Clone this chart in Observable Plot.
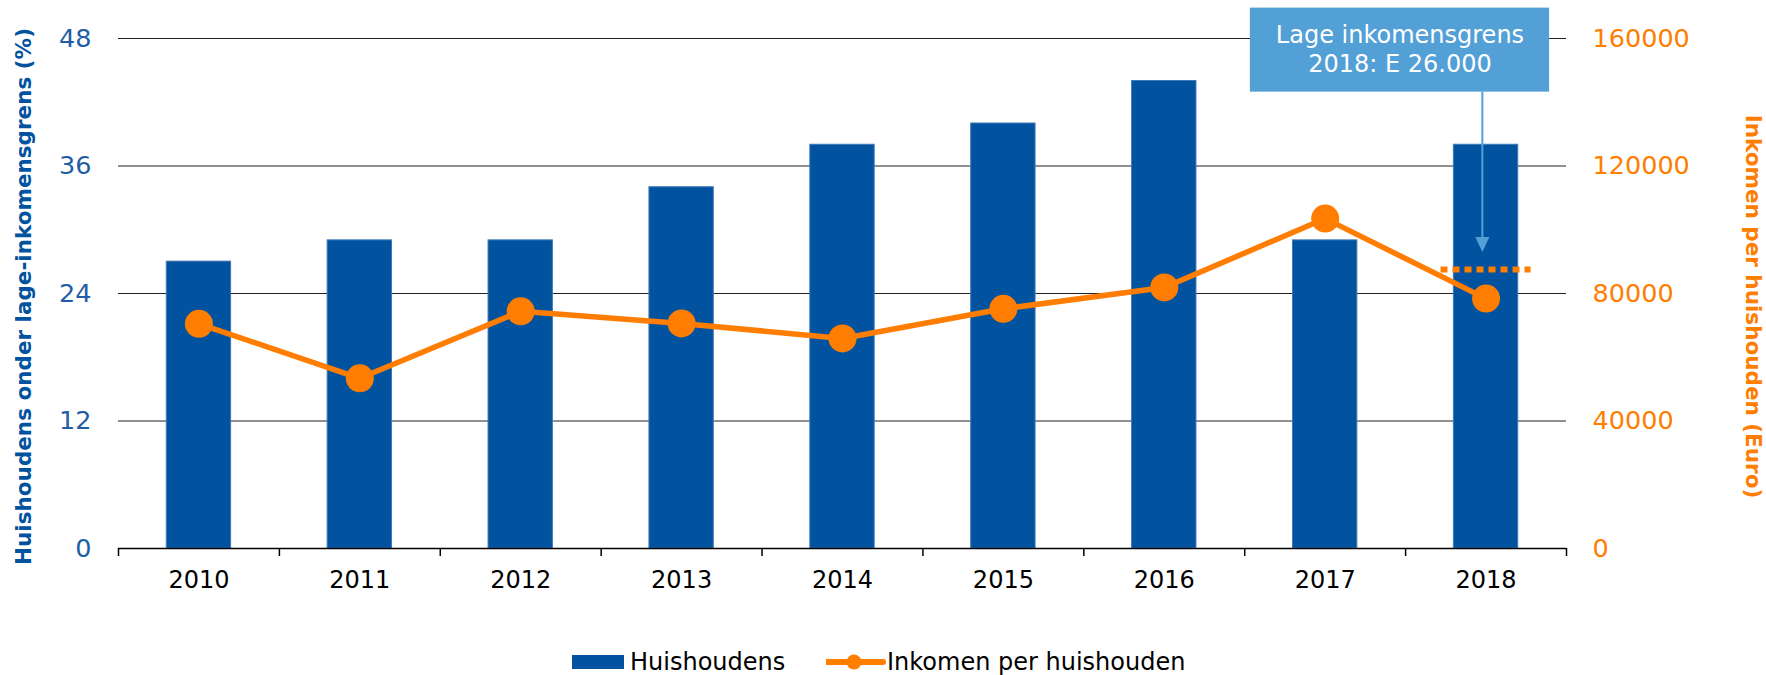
<!DOCTYPE html>
<html>
<head>
<meta charset="utf-8">
<script src="https://cdn.jsdelivr.net/npm/d3@7"></script>
<script src="https://cdn.jsdelivr.net/npm/@observablehq/plot@0.6"></script>
<style>
  body { margin: 0; background: #fff; font-family: "DejaVu Sans", Verdana, sans-serif; }
  #wrap { position: relative; width: 1766px; height: 675px; overflow: hidden; }
  #wrap > svg { position: absolute; left: 0; top: 0; }
  #legend { position: absolute; left: 0; top: 630px; width: 1766px; height: 45px; font-size: 24px; color: #000; }
  #legend .lbl { position: absolute; top: 18px; line-height: 28px; white-space: nowrap; }
</style>
</head>
<body>
<div id="wrap"></div>
<script>
// ---- data ----
const years = ["2010", "2011", "2012", "2013", "2014", "2015", "2016", "2017", "2018"];
const huishoudens = [27, 29, 29, 34, 38, 40, 44, 29, 38];            // % (left axis)
const inkomen = [70500, 53400, 74400, 70600, 65900, 75200, 81900, 103500, 78400]; // Euro (right axis)
const lageGrens2018 = [87500];                                       // dotted reference at 2018
const leftTicks = [0, 12, 24, 36, 48];
const rightTicks = [0, 40000, 80000, 120000, 160000];
const annotatie = ["Lage inkomensgrens", "2018: E 26.000"];
const leftLabel = "Huishoudens onder lage-inkomensgrens (%)";
const rightLabel = "Inkomen per huishouden (Euro)";
const legendLabels = ["Huishoudens", "Inkomen per huishouden"];

// ---- styling ----
const BLUE = "#02539f";
const TICKBLUE = "#1f5ea6";
const ORANGE = "#ff7d00";
const ANNO = "#53a0d7";
const FONT = '"DejaVu Sans", Verdana, sans-serif';

const ratio = leftTicks[leftTicks.length - 1] / rightTicks[rightTicks.length - 1];
const data = years.map((y, i) => ({ i, year: y, pct: huishoudens[i], inc: inkomen[i] }));
const last = data.length - 1;

const triangleDown = {
  draw(ctx) { ctx.moveTo(-7, -15); ctx.lineTo(7, -15); ctx.lineTo(0, 0); ctx.closePath(); }
};

const plot = Plot.plot({
  width: 1766,
  height: 630,
  marginLeft: 118,
  marginRight: 200,
  marginTop: 38,
  marginBottom: 82,
  style: { fontFamily: FONT, background: "white", overflow: "visible" },
  x: { domain: [0, years.length] },
  y: { domain: [0, leftTicks[leftTicks.length - 1]] },
  marks: [
    Plot.ruleY(leftTicks.filter(d => d > 0), { stroke: "#222", strokeWidth: 1 }),
    Plot.rect(data, {
      x1: d => d.i + 0.3, x2: d => d.i + 0.7, y1: 0, y2: "pct",
      fill: BLUE, stroke: "#3f78b9", strokeWidth: 1
    }),
    Plot.ruleY([0], { stroke: "#000", strokeWidth: 1.5 }),
    Plot.axisX({ ticks: d3.range(years.length + 1), tickSize: 8, tickFormat: () => "", stroke: "#000", strokeWidth: 1.5 }),
    Plot.axisX({
      ticks: data.map(d => d.i + 0.5), tickSize: 0, tickPadding: 22,
      tickFormat: d => years[Math.floor(d)], fontSize: 24, color: "#000"
    }),
    Plot.axisY({ ticks: leftTicks, tickSize: 0, tickPadding: 27, fontSize: 25.5, color: TICKBLUE, label: null }),
    Plot.axisY({
      anchor: "right", ticks: rightTicks.map(d => d * ratio), tickSize: 0, tickPadding: 26,
      tickFormat: d => String(Math.round(d / ratio)), fontSize: 25.5, color: ORANGE, label: null
    }),
    Plot.text([leftLabel], {
      frameAnchor: "left", dx: -94, dy: 3, rotate: -90, fontSize: 21.5, fontWeight: "bold", fill: BLUE,
      textAnchor: "middle", lineAnchor: "middle"
    }),
    Plot.text([rightLabel], {
      frameAnchor: "right", dx: 186, dy: 13, rotate: 90, fontSize: 21.5, fontWeight: "bold", fill: ORANGE,
      textAnchor: "middle", lineAnchor: "middle"
    }),
    // dotted low-income threshold at 2018
    Plot.ruleY(lageGrens2018, {
      y: d => d * ratio, x1: last + 0.22, x2: last + 0.78,
      stroke: ORANGE, strokeWidth: 6, strokeDasharray: "7,5"
    }),
    Plot.line(data, { x: d => d.i + 0.5, y: d => d.inc * ratio, stroke: ORANGE, strokeWidth: 5.5 }),
    Plot.dot(data, { x: d => d.i + 0.5, y: d => d.inc * ratio, r: 14, fill: ORANGE, stroke: "none" }),
    // annotation box + arrow
    Plot.rect([0], { x1: last - 0.965, x2: last + 0.895, y1: 42.95, y2: 50.86, fill: ANNO }),
    Plot.text([annotatie.join("\n")], {
      x: last - 0.035, y: 47.1, fill: "white", fontSize: 24, lineHeight: 1.2,
      textAnchor: "middle", lineAnchor: "middle"
    }),
    Plot.ruleX([last + 0.477], { y1: 42.95, y2: 29.2, stroke: ANNO, strokeWidth: 2 }),
    Plot.dot([last + 0.477], { x: d => d, y: 27.9, symbol: triangleDown, fill: ANNO, stroke: "none" })
  ]
});

const wrap = document.getElementById("wrap");
wrap.appendChild(plot);

// ---- legend ----
const legend = document.createElement("div");
legend.id = "legend";
legend.innerHTML =
  `<span style="position:absolute;left:572px;top:25px;width:52px;height:14px;background:${BLUE}"></span>` +
  `<span class="lbl" style="left:630px">${legendLabels[0]}</span>` +
  `<svg style="position:absolute;left:826px;top:20px" width="60" height="24">` +
  `<line x1="1" y1="12" x2="57" y2="12" stroke="${ORANGE}" stroke-width="6" stroke-linecap="round"/>` +
  `<circle cx="28" cy="12" r="7.5" fill="${ORANGE}"/></svg>` +
  `<span class="lbl" style="left:887px">${legendLabels[1]}</span>`;
wrap.appendChild(legend);
</script>
</body>
</html>
